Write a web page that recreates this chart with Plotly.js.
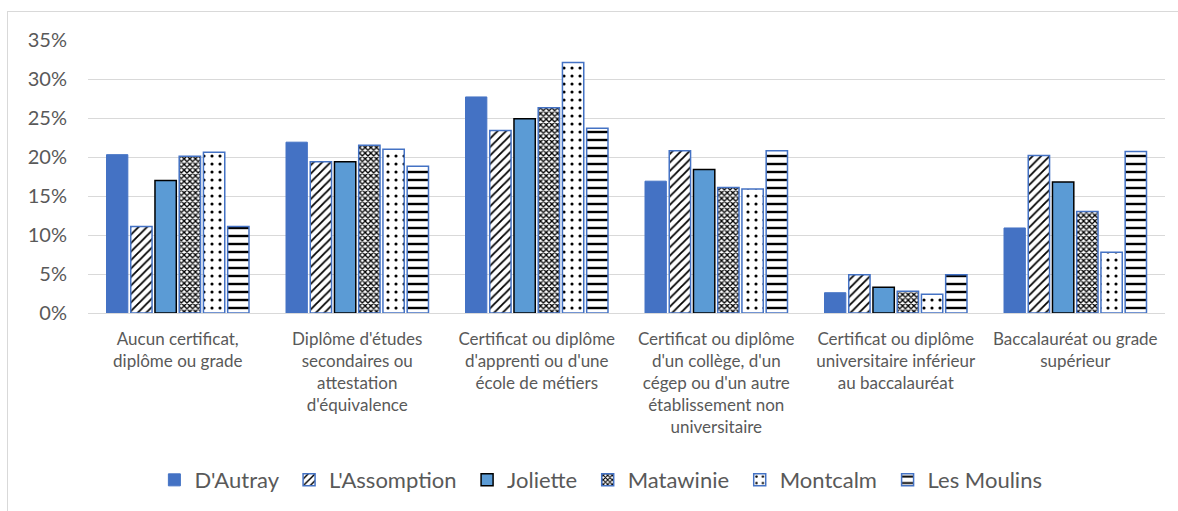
<!DOCTYPE html>
<html>
<head>
<meta charset="utf-8">
<script src="https://cdn.plot.ly/plotly-3.0.1.min.js"></script>
<style>
html,body{margin:0;padding:0;background:#fff;}
#chart{width:1178px;height:511px;position:relative;}
#frame{position:absolute;left:7px;top:11px;width:1200px;height:600px;border-left:1px solid #d9d9d9;border-top:1px solid #d9d9d9;pointer-events:none;}
</style>
</head>
<body>
<div id="chart"></div>
<div id="frame"></div>
<script>
const categories = [
  "Aucun certificat,<br>diplôme ou grade",
  "Diplôme d'études<br>secondaires ou<br>attestation<br>d'équivalence",
  "Certificat ou diplôme<br>d'apprenti ou d'une<br>école de métiers",
  "Certificat ou diplôme<br>d'un collège, d'un<br>cégep ou d'un autre<br>établissement non<br>universitaire",
  "Certificat ou diplôme<br>universitaire inférieur<br>au baccalauréat",
  "Baccalauréat ou grade<br>supérieur"
];
const seriesNames = ["D'Autray", "L'Assomption", "Joliette", "Matawinie", "Montcalm", "Les Moulins"];
const dAutray     = [20.3, 21.9, 27.7, 16.9, 2.6, 10.9];
const lAssomption = [11.1, 19.4, 23.4, 20.8, 4.9, 20.2];
const joliette    = [17.0, 19.4, 24.9, 18.4, 3.3, 16.8];
const matawinie   = [20.1, 21.5, 26.3, 16.1, 2.8, 13.0];
const montcalm    = [20.6, 21.0, 32.1, 15.9, 2.4, 7.8];
const lesMoulins  = [11.1, 18.8, 23.7, 20.8, 4.9, 20.7];
const yTicks = [0, 5, 10, 15, 20, 25, 30, 35];

const blue = '#4472C4';
const values = [dAutray, lAssomption, joliette, matawinie, montcalm, lesMoulins];
const markers = [
  {color: blue, line: {color: blue, width: 1}},
  {color: '#ffffff', line: {color: blue, width: 1.5},
   pattern: {shape: '/', fgcolor: '#000000', bgcolor: '#ffffff', size: 6, solidity: 0.3, fillmode: 'replace'}},
  {color: '#5B9BD5', line: {color: '#000000', width: 1.5}},
  {color: '#ffffff', line: {color: blue, width: 1.5},
   pattern: {shape: 'x', fgcolor: '#000000', bgcolor: '#ffffff', size: 4, solidity: 0.55, fillmode: 'replace'}},
  {color: '#ffffff', line: {color: blue, width: 1.5},
   pattern: {shape: '.', fgcolor: '#000000', bgcolor: '#ffffff', size: 8, solidity: 0.12, fillmode: 'replace'}},
  {color: '#ffffff', line: {color: blue, width: 1.5},
   pattern: {shape: '-', fgcolor: '#000000', bgcolor: '#ffffff', size: 8, solidity: 0.3, fillmode: 'replace'}}
];

const pad = '\u00a0';
const data = seriesNames.map((n, i) => ({
  type: 'bar', name: n + pad, x: categories, y: values[i], marker: markers[i], hoverinfo: 'y+name'
}));

const font = "Lato, 'Liberation Sans', sans-serif";
const layout = {
  width: 1178, height: 511,
  margin: {l: 88, r: 13, t: 40, b: 197},
  paper_bgcolor: '#ffffff', plot_bgcolor: '#ffffff',
  barmode: 'group', bargap: 0.19, bargroupgap: 0.12,
  font: {family: font, color: '#595959'},
  xaxis: {
    type: 'category', showgrid: false, showline: false, ticks: '',
    tickfont: {size: 17, color: '#595959', family: font},
    ticklabelstandoff: 14, fixedrange: true
  },
  yaxis: {
    range: [0, 35], tickvals: yTicks, ticktext: yTicks.map(v => v + '%'),
    showgrid: true, gridcolor: '#d9d9d9', gridwidth: 1,
    zeroline: true, zerolinecolor: '#d9d9d9', zerolinewidth: 1,
    showline: false, ticks: '',
    tickfont: {size: 20, color: '#595959', family: font},
    ticklabelstandoff: 20, fixedrange: true
  },
  showlegend: true,
  legend: {
    orientation: 'h', x: 0.479, xanchor: 'center', y: -0.606, yanchor: 'middle',
    font: {size: 22, color: '#595959', family: font},
    itemwidth: 30, traceorder: 'normal', bgcolor: 'rgba(0,0,0,0)'
  }
};
Plotly.newPlot('chart', data, layout, {displayModeBar: false, staticPlot: true});
</script>
</body>
</html>
